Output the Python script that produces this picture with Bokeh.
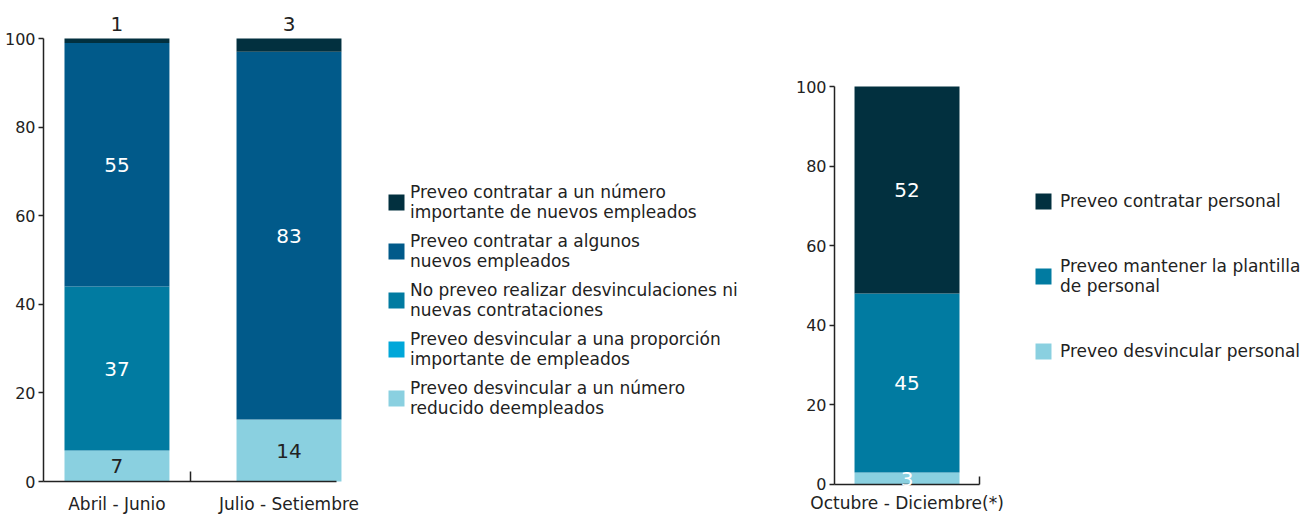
from bokeh.plotting import figure
from bokeh.models import (ColumnDataSource, Range1d, FixedTicker, LabelSet,
                          Legend, LegendItem)
from bokeh.layouts import row
from bokeh.embed import file_html
from bokeh.resources import INLINE
from bokeh.core.properties import value

# ---------------- data ----------------
periods_q = ["Abril - Junio", "Julio - Setiembre"]
series_q = [
    "Preveo desvincular a un número\nreducido deempleados",
    "Preveo desvincular a una proporción\nimportante de empleados",
    "No preveo realizar desvinculaciones ni\nnuevas contrataciones",
    "Preveo contratar a algunos\nnuevos empleados",
    "Preveo contratar a un número\nimportante de nuevos empleados",
]
reducido = [7, 14]
proporcion = [0, 0]
no_preveo = [37, 0]
algunos = [55, 83]
importante = [1, 3]

period_r = ["Octubre - Diciembre(*)"]
series_r = [
    "Preveo desvincular personal",
    "Preveo mantener la plantilla\nde personal",
    "Preveo contratar personal",
]
desvincular = [3]
mantener = [45]
contratar = [52]

y_ticks = [0, 20, 40, 60, 80, 100]

colors_q = ["#8AD0E0", "#00A7D9", "#017BA1", "#015A8A", "#02303F"]
colors_r = ["#8AD0E0", "#017BA1", "#02303F"]

FONT = "DejaVu Sans"
TXT = "#222222"


def style_axes(p, x_bounds, y_loc):
    p.xgrid.grid_line_color = None
    p.ygrid.grid_line_color = None
    p.outline_line_color = None
    p.background_fill_color = "white"
    p.border_fill_color = "white"
    for ax in (p.xaxis[0], p.yaxis[0]):
        ax.axis_line_color = TXT
        ax.axis_line_width = 1.5
        ax.major_tick_line_color = TXT
        ax.minor_tick_line_color = TXT
        ax.major_tick_line_width = 1.5
        ax.minor_tick_line_width = 1.5
        ax.major_label_text_font = FONT
        ax.major_label_text_color = TXT
    yax = p.yaxis[0]
    yax.ticker = FixedTicker(ticks=y_ticks)
    yax.bounds = (0, 100)
    yax.fixed_location = y_loc
    yax.major_tick_out = 5
    yax.major_tick_in = 0
    yax.minor_tick_out = 0
    yax.minor_tick_in = 0
    yax.major_label_text_font_size = "16px"
    yax.major_label_standoff = 3
    xax = p.xaxis[0]
    xax.fixed_location = 0
    xax.bounds = x_bounds
    xax.major_tick_out = 0
    xax.major_tick_in = 0
    xax.minor_tick_out = 0
    xax.minor_tick_in = 10
    xax.major_label_text_font_size = "17px"
    xax.major_label_standoff = 12


# ---------------- left chart ----------------
keys_q = ["reducido", "proporcion", "no_preveo", "algunos", "importante"]
src_q = ColumnDataSource(dict(
    x=list(range(len(periods_q))),
    reducido=reducido, proporcion=proporcion, no_preveo=no_preveo,
    algunos=algunos, importante=importante,
))

p1 = figure(width=775, height=515, output_backend="svg", toolbar_location=None,
            x_range=Range1d(-0.677, 3.828), y_range=Range1d(-7.67, 108.58),
            min_border_left=0, min_border_right=0, min_border_top=0,
            min_border_bottom=0)
rs_q = p1.vbar_stack(keys_q, x="x", width=0.61, color=colors_q,
                     line_color=None, source=src_q)
style_axes(p1, (-0.427, 1.276), -0.427)
p1.xaxis[0].ticker = FixedTicker(ticks=list(range(len(periods_q))), minor_ticks=[0.43])
p1.xaxis[0].major_label_overrides = {i: n for i, n in enumerate(periods_q)}

# value labels inside bars
lx, ly, lt, lc = [], [], [], []
tx, ty, tt = [], [], []
cols_q = [reducido, proporcion, no_preveo, algunos, importante]
for i in range(len(periods_q)):
    base = 0
    for k, col in enumerate(cols_q):
        v = col[i]
        if v > 0:
            if k == len(cols_q) - 1:
                tx.append(i); ty.append(base + v); tt.append(str(v))
            else:
                lx.append(i); ly.append(base + v / 2); lt.append(str(v))
                lc.append(TXT if k == 0 else "white")
        base += v
p1.add_layout(LabelSet(source=ColumnDataSource(dict(x=lx, y=ly, t=lt, c=lc)),
                       x="x", y="y", text="t", text_color="c",
                       text_align="center", text_baseline="middle",
                       text_font=value(FONT), text_font_size="20px"))
p1.add_layout(LabelSet(source=ColumnDataSource(dict(x=tx, y=ty, t=tt)),
                       x="x", y="y", text="t", text_color=TXT, y_offset=8,
                       text_align="center", text_baseline="bottom",
                       text_font=value(FONT), text_font_size="20px"))

leg1 = Legend(items=[LegendItem(label=series_q[k], renderers=[rs_q[k]])
                     for k in reversed(range(len(series_q)))],
              location=(386, 97), orientation="vertical",
              glyph_width=20, glyph_height=20, label_standoff=4, spacing=9,
              padding=0, margin=0, border_line_alpha=0, background_fill_alpha=0,
              label_text_font=FONT, label_text_font_size="17px",
              label_text_color=TXT, label_text_line_height=1.2)
p1.add_layout(leg1, "center")

# ---------------- right chart ----------------
keys_r = ["desvincular", "mantener", "contratar"]
src_r = ColumnDataSource(dict(x=[0], desvincular=desvincular,
                              mantener=mantener, contratar=contratar))
p2 = figure(width=532, height=515, output_backend="svg", toolbar_location=None,
            x_range=Range1d(-0.907, 2.762), y_range=Range1d(-7.79, 121.61),
            min_border_left=0, min_border_right=0, min_border_top=0,
            min_border_bottom=0)
rs_r = p2.vbar_stack(keys_r, x="x", width=0.724, color=colors_r,
                     line_color=None, source=src_r)
style_axes(p2, (-0.5, 0.5), -0.5)
p2.xaxis[0].ticker = FixedTicker(ticks=[0], minor_ticks=[0.5])
p2.xaxis[0].minor_tick_in = 8
p2.xaxis[0].major_label_standoff = 9
p2.xaxis[0].major_label_overrides = {0: period_r[0]}

rx, ry, rt = [], [], []
base = 0
for col in [desvincular, mantener, contratar]:
    v = col[0]
    rx.append(0); ry.append(base + v / 2); rt.append(str(v))
    base += v
p2.add_layout(LabelSet(source=ColumnDataSource(dict(x=rx, y=ry, t=rt)),
                       x="x", y="y", text="t", text_color="white",
                       text_align="center", text_baseline="middle",
                       text_font=value(FONT), text_font_size="20px"))

leg2 = Legend(items=[LegendItem(label=series_r[k], renderers=[rs_r[k]])
                     for k in reversed(range(len(series_r)))],
              location=(258, 154), orientation="vertical",
              glyph_width=20, glyph_height=20, label_standoff=7, spacing=45,
              padding=0, margin=0, border_line_alpha=0, background_fill_alpha=0,
              label_text_font=FONT, label_text_font_size="17px",
              label_text_color=TXT, label_text_line_height=1.2)
p2.add_layout(leg2, "center")

layout = row(p1, p2)
open("out.html", "w").write(file_html(layout, INLINE))
